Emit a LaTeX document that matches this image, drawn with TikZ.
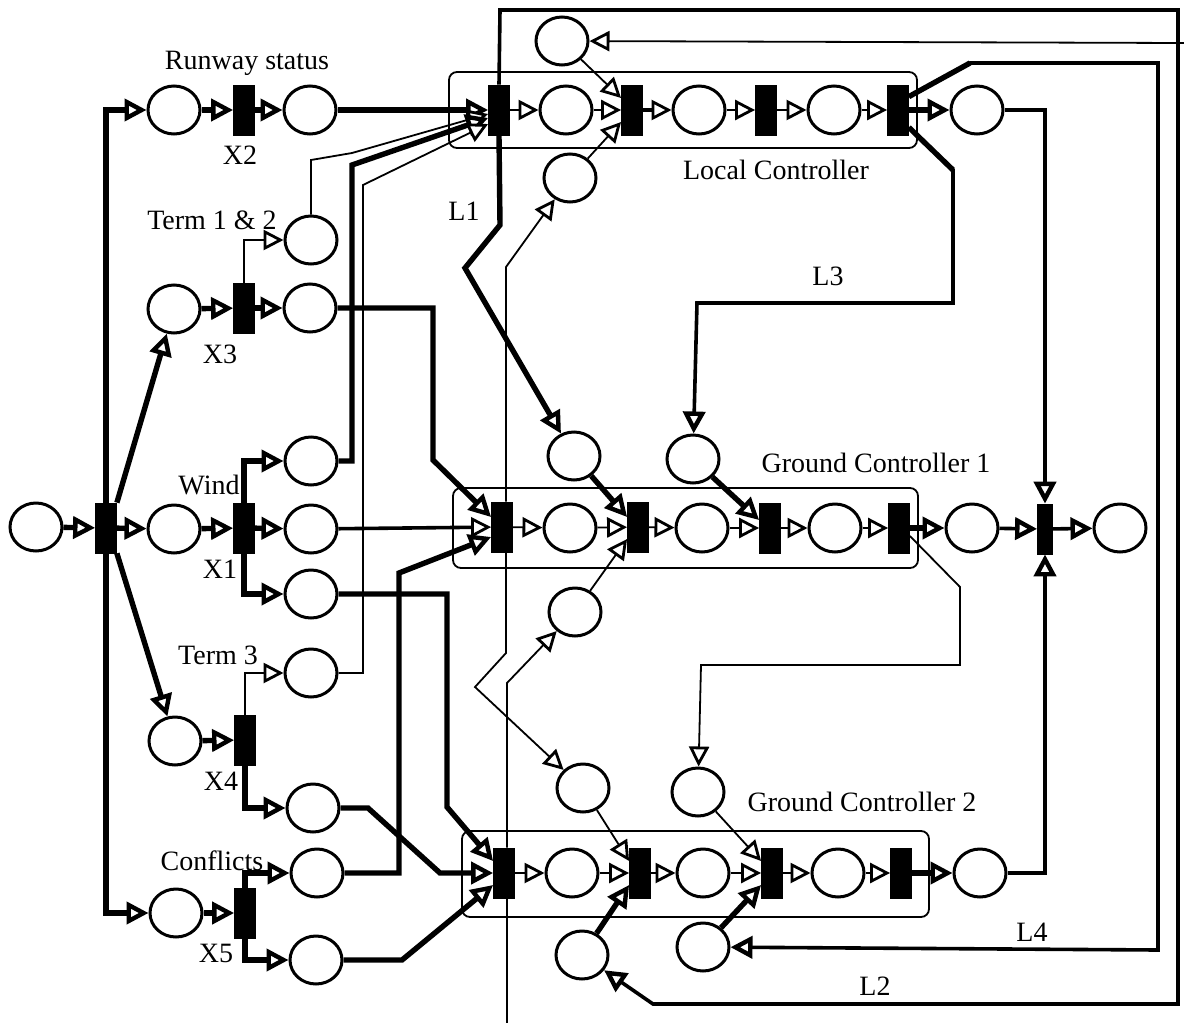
\documentclass[tikz,border=0pt]{standalone}
\usepackage{fontspec}
\setmainfont{Liberation Serif}
\usetikzlibrary{arrows.meta,shapes.geometric}

\begin{document}
\begin{tikzpicture}[
    x=0.5pt, y=-0.5pt,
    font=\fontsize{14}{16}\selectfont,
    place/.style={draw, ellipse, line width=1.5pt, minimum width=26pt, minimum height=24pt, inner sep=0pt, fill=white},
    trans/.style={draw, fill=black, rectangle, minimum width=10.5pt, minimum height=25pt, inner sep=0pt},
    ctrlbox/.style={draw, rounded corners=4pt, line width=0.9pt},
    thn/.style={line width=0.9pt},
    mid/.style={line width=1.8pt},
    thk/.style={line width=2.7pt},
    tip/.style={-{Triangle[length=10pt, width=10pt, fill=white, line width=1.4pt]}},
    tipb/.style={-{Triangle[length=11pt, width=11pt, fill=white, line width=2.2pt]}}
  ]
  \useasboundingbox (0,0) rectangle (1184,1023);

  % --- CONTROLLER BOXES ---
  \draw[ctrlbox] (449,72) rectangle (917,148);
  \draw[ctrlbox] (453,488) rectangle (918,568);
  \draw[ctrlbox] (462,831) rectangle (929,917);

  % --- INPUT SIDE ---
  \node[place] (p0) at (36,527) {};
  \node[trans] (t0) at (106,528) {};
  \node[place] (a1) at (174,110) {};
  \node[trans] (x2) at (244,110) {};
  \node[place] (a2) at (310,110) {};
  \node[place] (b1) at (311,240) {};
  \node[place] (b2) at (174,309) {};
  \node[trans] (x3) at (244,308) {};
  \node[place] (b3) at (310,308) {};
  \node[place] (w0) at (174,529) {};
  \node[trans] (x1) at (244,528) {};
  \node[place] (w1) at (311,461) {};
  \node[place] (w2) at (311,529) {};
  \node[place] (w3) at (311,594) {};
  \node[place] (d1) at (311,673) {};
  \node[place] (d0) at (175,741) {};
  \node[trans] (x4) at (245,740) {};
  \node[place] (d2) at (313,808) {};
  \node[place] (c0) at (176,913) {};
  \node[trans] (x5) at (245,913) {};
  \node[place] (c1) at (317,873) {};
  \node[place] (c2) at (316,960) {};

  % --- LOCAL CONTROLLER ---
  \node[trans] (lt1) at (499,110) {};
  \node[place] (lp1) at (566,110) {};
  \node[trans] (lt2) at (632,110) {};
  \node[place] (lp2) at (699,110) {};
  \node[trans] (lt3) at (766,110) {};
  \node[place] (lp3) at (834,110) {};
  \node[trans] (lt4) at (898,110) {};
  \node[place] (lout) at (977,110) {};
  \node[place] (ltop) at (562,41) {};
  \node[place] (lbot) at (570,178) {};

  % --- GROUND CONTROLLER 1 ---
  \node[trans] (ga1) at (502,527) {};
  \node[place] (gp1) at (570,528) {};
  \node[trans] (ga2) at (638,527) {};
  \node[place] (gp2) at (702,528) {};
  \node[trans] (ga3) at (770,528) {};
  \node[place] (gp3) at (835,528) {};
  \node[trans] (ga4) at (899,528) {};
  \node[place] (gout) at (972,528) {};
  \node[place] (gul) at (574,456) {};
  \node[place] (gur) at (693,459) {};
  \node[place] (glo) at (575,612) {};

  % --- GROUND CONTROLLER 2 ---
  \node[trans] (gb1) at (504,873) {};
  \node[place] (hp1) at (572,873) {};
  \node[trans] (gb2) at (640,873) {};
  \node[place] (hp2) at (703,873) {};
  \node[trans] (gb3) at (772,873) {};
  \node[place] (hp3) at (838,873) {};
  \node[trans] (gb4) at (901,873) {};
  \node[place] (hout) at (980,873) {};
  \node[place] (hul) at (583,788) {};
  \node[place] (hur) at (698,792) {};
  \node[place] (hll) at (582,955) {};
  \node[place] (hlr) at (703,947) {};

  % --- MERGE ---
  \node[trans, minimum width=7.5pt] (fin) at (1045,529) {};
  \node[place] (pend) at (1120,528) {};

  \coordinate (redge) at (1184,43);
  \coordinate (bedge) at (507,1023);

  % --- LABELS ---
  \node (lrun) at (247,63) {Runway status};
  \node (lx2) at (240,155) {X2};
  \node (lterm) at (212,220) {Term 1 \& 2};
  \node (lx3) at (220,354) {X3};
  \node (lwind) at (209,485) {Wind};
  \node (lx1) at (220,569) {X1};
  \node (lterm3) at (218,655) {Term 3};
  \node (lx4) at (221,781) {X4};
  \node (lconf) at (212,861) {Conflicts};
  \node (lx5) at (216,953) {X5};
  \node (ll1) at (464,211) {L1};
  \node (ll3) at (828,276) {L3};
  \node (llc) at (776,170) {Local Controller};
  \node (lg1) at (876,463) {Ground Controller 1};
  \node (lg2) at (862,802) {Ground Controller 2};
  \node (ll4) at (1032,932) {L4};
  \node (ll2) at (875,986) {L2};

  % --- CONNECTIONS ---

  % Splitting transition
  \draw[thk,tipb] (p0) -- (t0);
  \draw[thk,tipb] (t0) -- (w0);
  \draw[thk,tipb] (t0.north) |- (a1);
  \draw[thk,tipb] (t0.south) |- (c0);
  \draw[thk,tipb] (t0.north east) -- (b2);
  \draw[thk,tipb] (t0.south east) -- (d0);

  % X1..X5
  \draw[thk,tipb] (a1) -- (x2);
  \draw[thk,tipb] (x2) -- (a2);
  \draw[thk,tipb] (b2) -- (x3);
  \draw[thk,tipb] (x3) -- (b3);
  \draw[thn,tip] (x3.north) |- (b1);
  \draw[thk,tipb] (w0) -- (x1);
  \draw[thk,tipb] (x1.north) |- (w1);
  \draw[thk,tipb] (x1) -- (w2);
  \draw[thk,tipb] (x1.south) |- (w3);
  \draw[thk,tipb] (d0) -- (x4);
  \draw[thn,tip] (x4.north) |- (d1);
  \draw[thk,tipb] (x4.south) |- (d2);
  \draw[thk,tipb] (c0) -- (x5);
  \draw[thk,tipb] (x5.north) |- (c1);
  \draw[thk,tipb] (x5.south) |- (c2);

  % Inputs -> Local Controller
  \draw[thk,tipb] (a2) -- (lt1);
  \draw[thn,tip] (b1.north) -- (311,160) -- (352,153) -- ([yshift=-2pt]lt1.west);
  \draw[thk,tipb] (w1.east) -- (352,461) -- (352,165) -- ([yshift=-4pt]lt1.west);
  \draw[thn,tip] (d1.east) -- (363,673) -- (363,185) -- ([yshift=-7pt]lt1.west);

  % Inputs -> Ground Controller 1
  \draw[thk,tipb] (b3) -- (433,308) -- (433,460) -- ([yshift=5pt]ga1.west);
  \draw[mid,tip] (w2) -- (ga1);
  \draw[thk,tipb] (c1) -- (399,873) -- (399,573) -- ([yshift=-5pt]ga1.west);

  % Inputs -> Ground Controller 2
  \draw[thk,tipb] (w3) -- (447,594) -- (447,807) -- ([yshift=6pt]gb1.west);
  \draw[thk,tipb] (d2) -- (368,808) -- (440,873) -- (gb1);
  \draw[thk,tipb] (c2) -- (402,960) -- ([yshift=-6pt]gb1.west);

  % Inside Local Controller
  \draw[thn,tip] (lt1) -- (lp1);
  \draw[thn,tip] (lp1) -- (lt2);
  \draw[mid,tip] (lt2) -- (lp2);
  \draw[thn,tip] (lp2) -- (lt3);
  \draw[thn,tip] (lt3) -- (lp3);
  \draw[thn,tip] (lp3) -- (lt4);
  \draw[thk,tipb] (lt4) -- (lout);
  \draw[thn,tip] (ltop) -- ([yshift=6pt]lt2.west);
  \draw[thn,tip] (lbot) -- ([yshift=-6pt]lt2.west);
  \draw[thn,tip] (redge) -- (ltop);

  % Inside Ground Controller 1
  \draw[thn,tip] (ga1) -- (gp1);
  \draw[thn,tip] (gp1) -- (ga2);
  \draw[thn,tip] (ga2) -- (gp2);
  \draw[thn,tip] (gp2) -- (ga3);
  \draw[thn,tip] (ga3) -- (gp3);
  \draw[thn,tip] (gp3) -- (ga4);
  \draw[thk,tipb] (ga4) -- (gout);
  \draw[thk,tipb] (gul) -- ([yshift=5pt]ga2.west);
  \draw[thn,tip] (glo) -- ([yshift=-6pt]ga2.west);
  \draw[thk,tipb] (gur) -- ([yshift=4pt]ga3.west);

  % Inside Ground Controller 2
  \draw[thn,tip] (gb1) -- (hp1);
  \draw[thn,tip] (hp1) -- (gb2);
  \draw[thn,tip] (gb2) -- (hp2);
  \draw[thn,tip] (hp2) -- (gb3);
  \draw[thn,tip] (gb3) -- (hp3);
  \draw[thn,tip] (hp3) -- (gb4);
  \draw[thk,tipb] (gb4) -- (hout);
  \draw[thn,tip] (hul) -- ([yshift=6pt]gb2.west);
  \draw[thk,tipb] (hll) -- ([yshift=-6pt]gb2.west);
  \draw[thn,tip] (hur) -- ([yshift=6pt]gb3.west);
  \draw[thk,tipb] (hlr) -- ([yshift=-6pt]gb3.west);

  % L1 / L2
  \draw[thk,tipb] (lt1.south) -- (500,225) -- (465,268) -- (gul);
  \draw[mid,tipb] (lt1.north) -- (500,10) -- (1178,10) -- (1178,1004) -- (653,1004) -- (hll);

  % L3 / L4
  \draw[mid,tipb] ([yshift=-6pt]lt4.north east) -- (970,63) -- (1158,63) -- (1158,950) -- (hlr);
  \draw[thk] ([yshift=-6pt]lt4.north east) -- (970,63);
  \draw[mid,tipb] ([yshift=4pt]lt4.south east) -- (953,170) -- (953,303) -- (697,303) -- (gur);
  \draw[thk] ([yshift=4pt]lt4.south east) -- (953,170);

  % Cross links between controllers
  \draw[thn,tip] ([xshift=2pt]ga1.north) -- (506,267) -- (lbot);
  \draw[thn,tip] ([xshift=2pt]ga1.south) -- (506,653) -- (475,687) -- (hul);
  \draw[thn,tip] ([xshift=1.5pt]gb1.north) -- (507,683) -- (glo);
  \draw[thn] ([xshift=1.5pt]gb1.south) -- (bedge);
  \draw[thn,tip] ([yshift=-4pt]ga4.east) -- (960,587) -- (960,665) -- (701,665) -- (hur);

  % Merge
  \draw[mid,tipb] (lout) -| (fin.north);
  \draw[mid,tipb] (gout) -- (fin);
  \draw[mid,tipb] (hout) -| (fin.south);
  \draw[mid,tipb] (fin) -- (pend);

\end{tikzpicture}
\end{document}
